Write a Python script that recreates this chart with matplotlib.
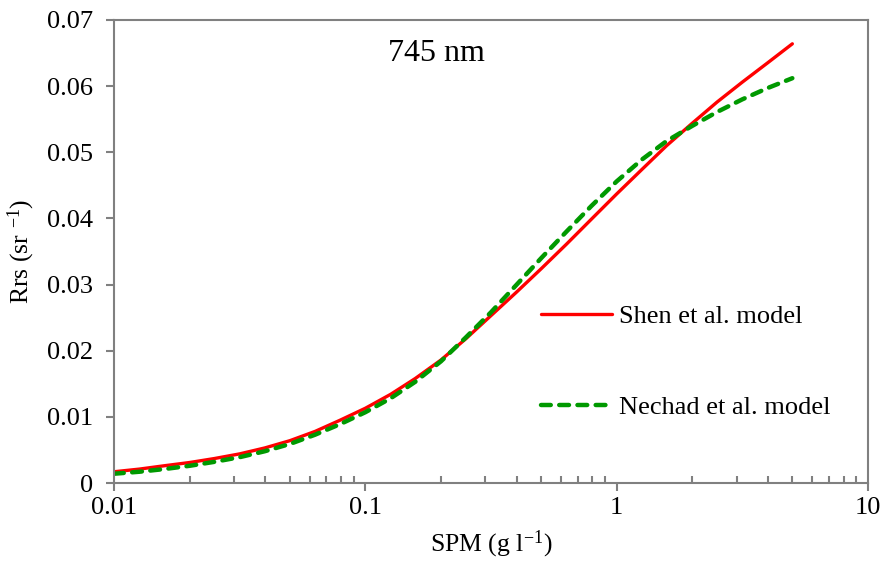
import matplotlib
matplotlib.use("Agg")
import matplotlib.pyplot as plt
from matplotlib.ticker import FixedLocator, FixedFormatter, LogLocator, NullFormatter

plt.rcParams['font.family'] = ['Liberation Serif', 'DejaVu Serif']
plt.rcParams['mathtext.fontset'] = 'custom'
plt.rcParams['mathtext.rm'] = 'Liberation Serif'
plt.rcParams['mathtext.it'] = 'Liberation Serif:italic'
plt.rcParams['mathtext.bf'] = 'Liberation Serif:bold'

# Data (SPM in g/l, Rrs in 1/sr)
spm = [0.01, 0.0126, 0.0158, 0.02, 0.0251, 0.0316, 0.0398, 0.0501, 0.0631,
       0.0794, 0.1, 0.126, 0.158, 0.2, 0.251, 0.316, 0.398, 0.501, 0.631,
       0.794, 1.0, 1.26, 1.58, 2.0, 2.51, 3.16, 3.98, 5.0]
shen = [0.0017, 0.0021, 0.0026, 0.0031, 0.0037, 0.0044, 0.0053, 0.0064, 0.0078,
        0.0095, 0.0113, 0.0134, 0.0158, 0.0186, 0.0218, 0.0253, 0.0288, 0.0324,
        0.0361, 0.0399, 0.0437, 0.0474, 0.0510, 0.0544, 0.0576, 0.0606, 0.0635,
        0.0664]
nechad = [0.0014, 0.0017, 0.0021, 0.0026, 0.0032, 0.0039, 0.0048, 0.0059, 0.0073,
          0.0089, 0.0107, 0.0128, 0.0153, 0.0184, 0.0220, 0.0258, 0.0299, 0.0340,
          0.0380, 0.0419, 0.0456, 0.0489, 0.0517, 0.0540, 0.0561, 0.0580, 0.0597,
          0.0612]

x_ticks = [0.01, 0.1, 1, 10]
x_labels = ['0.01', '0.1', '1', '10']
y_ticks = [0, 0.01, 0.02, 0.03, 0.04, 0.05, 0.06, 0.07]
y_labels = ['0', '0.01', '0.02', '0.03', '0.04', '0.05', '0.06', '0.07']

fig = plt.figure(figsize=(8.83, 5.70), dpi=100)
ax = fig.add_axes([114/883, 87/570, 754/883, 463/570])

ax.plot(spm, shen, color='#ff0000', lw=2.4, label='Shen et al. model',
        solid_capstyle='round', solid_joinstyle='round')
ax.plot(spm, nechad, color='#009900', lw=3.2, label='Nechad et al. model',
        dashes=(2.2, 1.9), dash_capstyle='round', dash_joinstyle='round')

ax.set_xscale('log')
ax.set_xlim(0.01, 10)
ax.set_ylim(0, 0.07)

ax.xaxis.set_major_locator(FixedLocator(x_ticks))
ax.xaxis.set_major_formatter(FixedFormatter(x_labels))
ax.xaxis.set_minor_locator(LogLocator(base=10, subs=[2, 3, 4, 5, 6, 7, 8, 9]))
ax.xaxis.set_minor_formatter(NullFormatter())
ax.yaxis.set_major_locator(FixedLocator(y_ticks))
ax.yaxis.set_major_formatter(FixedFormatter(y_labels))

grey = '#808080'
for s in ax.spines.values():
    s.set_color(grey)
    s.set_linewidth(1.5)

ax.tick_params(axis='both', which='major', direction='out', length=6,
               width=1.5, color=grey, labelsize=19)
ax.tick_params(axis='y', which='major', pad=9)
ax.tick_params(axis='x', which='major', pad=4)
ax.tick_params(axis='x', which='minor', direction='in', length=5,
               width=1.5, color=grey)

ax.set_xlabel(r'SPM (g l$^{\mathregular{-1}}$)', fontsize=18.5, labelpad=7)
ax.set_ylabel(r'Rrs (sr $^{\mathregular{-1}}$)', fontsize=18.5, labelpad=7)

ax.text(0.427, 0.927, '745 nm', transform=ax.transAxes, fontsize=23,
        ha='center', va='center')

ax.legend(loc='center left', bbox_to_anchor=(0.566, 0.2615), frameon=False,
          fontsize=19, labelspacing=2.55, handlelength=2.7, handletextpad=0.25,
          borderpad=0, borderaxespad=0)

fig.savefig('out.png', dpi=100)
